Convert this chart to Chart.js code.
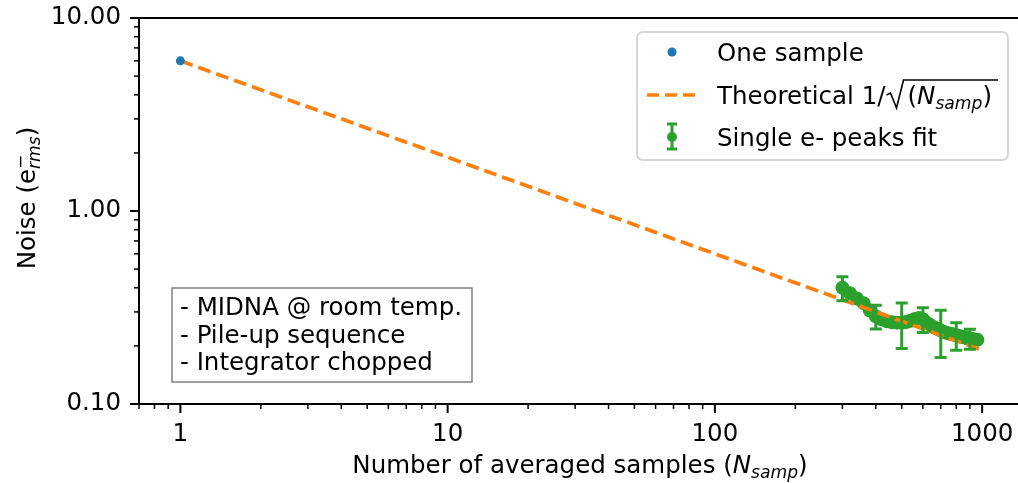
<!DOCTYPE html>
<html>
<head>
<meta charset="utf-8">
<script src="https://cdn.jsdelivr.net/npm/chart.js@4.4.1/dist/chart.umd.min.js"></script>
<style>body{margin:0;background:#fff}</style>
</head>
<body>
<canvas id="myChart" width="1018" height="483"></canvas>
<script>
var FONT = '"DejaVu Sans", sans-serif';
var fontSize = 24.5;

// single raw sample
var nOne = [1];
var noiseOne = [6.0];

// theoretical 1/sqrt(N) scaling of the single-sample noise
var nTheory = [1, 10, 100, 1000];
var noiseTheory = [6.0, 1.90, 0.60, 0.19];

// measured noise from single-electron peak fits
var nFit = [300, 320, 340, 360, 380, 400, 420, 440, 460, 480, 500, 520, 540, 560, 580, 600, 620,
  640, 660, 680, 700, 720, 740, 760, 780, 800, 820, 840, 860, 880, 900, 920, 940, 960];
var noiseFit = [0.400, 0.375, 0.352, 0.333, 0.305, 0.285, 0.275, 0.268, 0.265, 0.264, 0.264,
  0.266, 0.270, 0.276, 0.279, 0.275, 0.264, 0.257, 0.250, 0.245, 0.240, 0.236, 0.233, 0.231,
  0.229, 0.227, 0.225, 0.223, 0.221, 0.219, 0.218, 0.217, 0.216, 0.215];

// error bars are only shown every 100 samples
var nErr = [300, 400, 500, 600, 700, 800, 900];
var noiseErr = [0.057, 0.040, 0.070, 0.040, 0.066, 0.037, 0.026];

var xTickLabels = [1, 10, 100, 1000];
var yTickLabels = [0.1, 1, 10];

var notes = ["- MIDNA @ room temp.", "- Pile-up sequence", "- Integrator chopped"];

function pts(xs, ys) {
  return xs.map(function (x, i) { return { x: x, y: ys[i] }; });
}

// text with italic / sub / superscript pieces, returns width
function drawRich(ctx, parts, x, y, size, measureOnly) {
  var cx = x;
  parts.forEach(function (p) {
    var s = size, dy = 0, it = false;
    if (p.s === "i") it = true;
    if (p.s === "sub") { s = size * 0.7; dy = size * 0.22; it = true; }
    if (p.s === "sup") { s = size * 0.7; dy = -size * 0.36; }
    ctx.font = (it ? "italic " : "") + s + "px " + FONT;
    if (!measureOnly) ctx.fillText(p.t, cx, y + dy);
    if (!p.stack) cx += ctx.measureText(p.t).width;
  });
  return cx - x;
}

var extras = {
  id: "extras",
  afterDraw: function (chart) {
    var ctx = chart.ctx;
    var xs = chart.scales.x, ys = chart.scales.y;
    var a = chart.chartArea;
    ctx.save();

    // error bars
    ctx.strokeStyle = "#2ca02c";
    ctx.lineWidth = 3;
    nErr.forEach(function (n, i) {
      var v = noiseFit[nFit.indexOf(n)];
      var px = xs.getPixelForValue(n);
      var top = ys.getPixelForValue(v + noiseErr[i]);
      var bot = ys.getPixelForValue(v - noiseErr[i]);
      ctx.beginPath();
      ctx.moveTo(px, top); ctx.lineTo(px, bot);
      ctx.moveTo(px - 6, top); ctx.lineTo(px + 6, top);
      ctx.moveTo(px - 6, bot); ctx.lineTo(px + 6, bot);
      ctx.stroke();
    });

    // spines
    ctx.strokeStyle = "#000";
    ctx.lineWidth = 2;
    ctx.beginPath();
    ctx.moveTo(a.left, a.top); ctx.lineTo(a.left, a.bottom); ctx.lineTo(a.right, a.bottom);
    ctx.moveTo(a.left, a.top); ctx.lineTo(a.right, a.top);
    ctx.stroke();

    // major and minor log ticks
    function tick(isX, val, len, w) {
      var p = isX ? xs.getPixelForValue(val) : ys.getPixelForValue(val);
      ctx.lineWidth = w;
      ctx.beginPath();
      if (isX) { if (p < a.left || p > a.right) return; ctx.moveTo(p, a.bottom); ctx.lineTo(p, a.bottom + len); }
      else { if (p < a.top - 1 || p > a.bottom + 1) return; ctx.moveTo(a.left, p); ctx.lineTo(a.left - len, p); }
      ctx.stroke();
    }
    [0.1, 1, 10, 100, 1000].forEach(function (d) {
      tick(true, d, 9, 2);
      for (var k = 2; k < 10; k++) tick(true, d * k, 5, 1.5);
    });
    [0.1, 1, 10].forEach(function (d) {
      tick(false, d, 9, 2);
      if (d < 10) for (var k = 2; k < 10; k++) tick(false, d * k, 5, 1.5);
    });

    ctx.fillStyle = "#000";
    ctx.textBaseline = "alphabetic";

    // x axis title
    var xt = [{ t: "Number of averaged samples (" }, { t: "N", s: "i" }, { t: "samp", s: "sub" }, { t: ")" }];
    var w = drawRich(ctx, xt, 0, 0, fontSize, true);
    drawRich(ctx, xt, 580 - w / 2, 473, fontSize);

    // y axis title
    var yt = [{ t: "Noise (e" }, { t: "\u2212", s: "sup", stack: true }, { t: "rms", s: "sub" }, { t: ")" }];
    w = drawRich(ctx, yt, 0, 0, fontSize, true);
    ctx.save();
    ctx.translate(35, 198);
    ctx.rotate(-Math.PI / 2);
    drawRich(ctx, yt, -w / 2, 0, fontSize);
    ctx.restore();

    // notes box
    ctx.fillStyle = "#fff";
    ctx.fillRect(172, 288, 300, 94);
    ctx.strokeStyle = "#808080";
    ctx.lineWidth = 1.5;
    ctx.strokeRect(172, 288, 300, 94);
    ctx.fillStyle = "#000";
    ctx.font = fontSize + "px " + FONT;
    notes.forEach(function (s, i) { ctx.fillText(s, 180, 315 + i * 27.5); });

    // legend
    var lx = 637, ly = 32, lw = 371, lh = 128, r = 6;
    ctx.beginPath();
    ctx.moveTo(lx + r, ly);
    ctx.arcTo(lx + lw, ly, lx + lw, ly + lh, r);
    ctx.arcTo(lx + lw, ly + lh, lx, ly + lh, r);
    ctx.arcTo(lx, ly + lh, lx, ly, r);
    ctx.arcTo(lx, ly, lx + lw, ly, r);
    ctx.closePath();
    ctx.fillStyle = "rgba(255,255,255,0.85)";
    ctx.fill();
    ctx.strokeStyle = "#d6d6d6";
    ctx.lineWidth = 2;
    ctx.stroke();

    var rows = [52, 95, 137];
    ctx.fillStyle = "#1f77b4";
    ctx.beginPath(); ctx.arc(672, rows[0], 4.5, 0, Math.PI * 2); ctx.fill();

    ctx.strokeStyle = "#ff7f0e";
    ctx.lineWidth = 3.7;
    ctx.setLineDash([12, 6]);
    ctx.beginPath(); ctx.moveTo(647, rows[1]); ctx.lineTo(697, rows[1]); ctx.stroke();
    ctx.setLineDash([]);

    ctx.strokeStyle = "#2ca02c";
    ctx.fillStyle = "#2ca02c";
    ctx.lineWidth = 3;
    ctx.beginPath();
    ctx.moveTo(672, rows[2] - 13); ctx.lineTo(672, rows[2] + 12);
    ctx.moveTo(667, rows[2] - 13); ctx.lineTo(677, rows[2] - 13);
    ctx.moveTo(667, rows[2] + 12); ctx.lineTo(677, rows[2] + 12);
    ctx.stroke();
    ctx.beginPath(); ctx.arc(672, rows[2], 5, 0, Math.PI * 2); ctx.fill();

    ctx.fillStyle = "#000";
    ctx.font = fontSize + "px " + FONT;
    ctx.fillText("One sample", 717, rows[0] + 9);
    ctx.fillText("Single e- peaks fit", 717, rows[2] + 9);
    var bx = 717 + drawRich(ctx, [{ t: "Theoretical 1/" }], 717, rows[1] + 9, fontSize);
    var base = rows[1] + 9;
    var tw = drawRich(ctx, [{ t: "(" }, { t: "N", s: "i" }, { t: "samp", s: "sub" }, { t: ")" }], bx + 22, base, fontSize);
    ctx.strokeStyle = "#000";
    ctx.lineWidth = 1.6;
    ctx.beginPath();
    ctx.moveTo(bx + 1, base - 9);
    ctx.lineTo(bx + 5, base - 11);
    ctx.lineTo(bx + 11, base + 4);
    ctx.lineTo(bx + 18, base - 24);
    ctx.lineTo(bx + 22 + tw + 6, base - 24);
    ctx.stroke();

    ctx.restore();
  }
};

var ctx = document.getElementById("myChart").getContext("2d");
var myChart = new Chart(ctx, {
  type: "line",
  data: {
    datasets: [
      {
        label: "One sample",
        data: pts(nOne, noiseOne),
        showLine: false,
        pointRadius: 4.5,
        pointBackgroundColor: "#1f77b4",
        pointBorderWidth: 0
      },
      {
        label: "Theoretical",
        data: pts(nTheory, noiseTheory),
        borderColor: "#ff7f0e",
        borderWidth: 3.7,
        borderDash: [13, 6],
        pointRadius: 0
      },
      {
        label: "Single e- peaks fit",
        data: pts(nFit, noiseFit),
        borderColor: "#2ca02c",
        borderWidth: 9,
        borderCapStyle: "round",
        borderJoinStyle: "round",
        pointRadius: 7,
        pointBackgroundColor: "#2ca02c",
        pointBorderWidth: 0
      }
    ]
  },
  options: {
    responsive: false,
    animation: false,
    layout: { autoPadding: false, padding: { top: 18, right: 0, left: 0, bottom: 0 } },
    plugins: { legend: { display: false }, tooltip: { enabled: false } },
    scales: {
      x: {
        type: "logarithmic",
        min: 0.709,
        max: 1362,
        grid: { display: false },
        border: { display: false },
        afterBuildTicks: function (s) { s.ticks = xTickLabels.map(function (v) { return { value: v }; }); },
        afterFit: function (s) { s.height = 79; s.paddingLeft = 0; s.paddingRight = 0; },
        ticks: {
          color: "#000",
          padding: 8,
          maxRotation: 0,
          font: { family: FONT, size: fontSize },
          callback: function (v) { return String(v); }
        }
      },
      y: {
        type: "logarithmic",
        min: 0.1,
        max: 10,
        grid: { display: false },
        border: { display: false },
        afterBuildTicks: function (s) { s.ticks = yTickLabels.map(function (v) { return { value: v }; }); },
        afterFit: function (s) { s.width = 139; s.paddingTop = 0; s.paddingBottom = 0; },
        ticks: {
          color: "#000",
          padding: 10,
          font: { family: FONT, size: fontSize },
          callback: function (v) { return Number(v).toFixed(2); }
        }
      }
    }
  },
  plugins: [extras]
});
</script>
</body>
</html>
